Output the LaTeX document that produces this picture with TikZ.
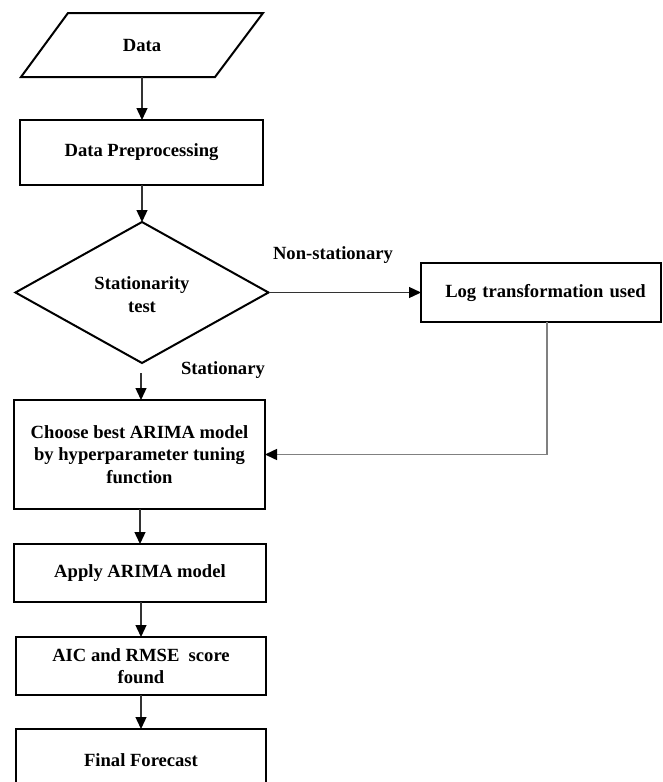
\documentclass[tikz,border=0pt]{standalone}
\usepackage{fontspec}
\setmainfont{Liberation Serif}
\usetikzlibrary{shapes.geometric,arrows.meta}
\begin{document}
\begin{tikzpicture}[x=1pt,y=-1pt,
  every node/.style={font=\fontsize{18.6}{22.5}\selectfont\bfseries, align=center, inner sep=0pt, outer sep=0pt},
  procbox/.style={draw=black, line width=2pt, rectangle},
  flow/.style={draw=black!80, line width=1.3pt, -{Triangle[length=12pt,width=11pt,color=black]}},
  loopflow/.style={draw=black!50, line width=1.5pt, -{Triangle[length=12pt,width=11pt,color=black]}}
]
\useasboundingbox (0,0) rectangle (662,782);
\fill[white] (0,0) rectangle (662,782);

% Data (parallelogram)
\draw[line width=2pt, line join=miter] (68,13) -- (263,13) -- (215,77) -- (21,77) -- cycle;
\node[minimum width=195pt, minimum height=64pt] (data) at (142,45) {Data};

\node[procbox, minimum width=243pt, minimum height=65pt] (prep) at (141.5,152.5) {Data Preprocessing};

\node[draw=black, line width=2pt, diamond, minimum width=253pt, minimum height=141pt] (test) at (142,292.5) {};
\node (testtxt) at (142,294.5) {Stationarity\\test};

\node[procbox, minimum width=240pt, minimum height=59pt, text width=236pt] (log) at (541,292.5) {\hspace*{9pt}Log transformation used};

\node[procbox, minimum width=251pt, minimum height=109pt] (choose) at (139.5,454.5) {Choose best ARIMA model\\by hyperparameter tuning\\function};

\node[procbox, minimum width=252pt, minimum height=58pt] (apply) at (140,573) {Apply ARIMA model};

\node[procbox, minimum width=250pt, minimum height=58pt] (aic) at (141,666) {AIC and RMSE\ \ score\\found};

\node[procbox, minimum width=250pt, minimum height=62pt] (final) at (141,760) {Final Forecast};

% labels
\node (nonst) at (333,255) {Non-stationary};
\node (stat) at (223,370) {Stationary};

% connectors
\draw[flow] (data.south) -- (prep.north -| data.south);
\draw[flow] (prep.south -| data.south) -- (test.north -| data.south);
\draw[flow] (test.east) -- (log.west);
\coordinate (statstart) at (141,373);
\draw[flow] (statstart) -- (choose.north -| statstart);
\coordinate (loopx) at (547,322);
\draw[loopflow] (loopx) |- (choose.east);
\draw[flow] (choose.south -| apply.north) -- (apply.north);
\draw[flow] (apply.south -| aic.north) -- (aic.north);
\draw[flow] (aic.south) -- (final.north);
\end{tikzpicture}
\end{document}
